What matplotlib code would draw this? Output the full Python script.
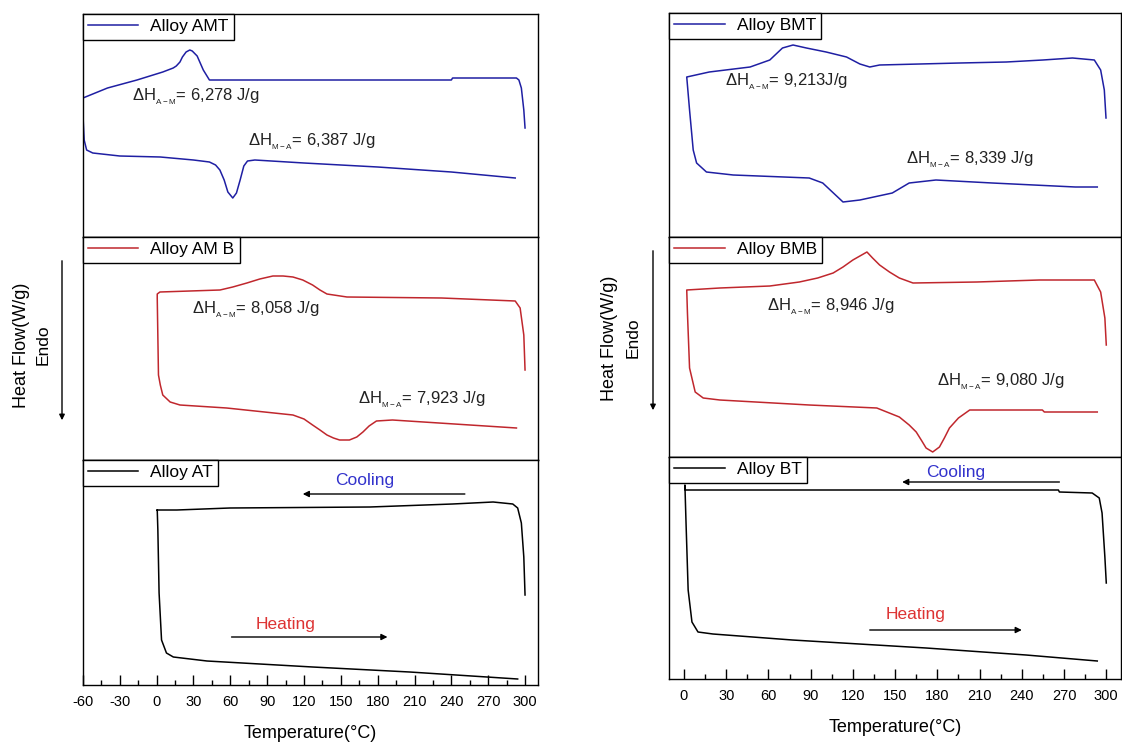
import numpy as np
import matplotlib
matplotlib.use("Agg")
import matplotlib.pyplot as plt
from matplotlib.patches import FancyArrowPatch

plt.rcParams['font.family'] = ['Liberation Sans', 'DejaVu Sans']
plt.rcParams['mathtext.fontset'] = 'custom'
plt.rcParams['mathtext.rm'] = 'Liberation Sans'
plt.rcParams['mathtext.it'] = 'Liberation Sans'
plt.rcParams['mathtext.default'] = 'regular'
plt.rcParams['axes.unicode_minus'] = False

# ---------------- data (temperature in °C, heat flow in arbitrary W/g) ----------------
# Alloy AMT
amt_cool_T = [300, 299, 297, 295, 293, 241, 240, 43, 38, 33, 29, 27, 24, 21, 19, 16, 13.5, 5, -16, -40, -60]
amt_cool_hf = [1.09, 1.27, 1.49, 1.57, 1.59, 1.59, 1.57, 1.57, 1.67, 1.81, 1.86, 1.87, 1.85, 1.80, 1.75, 1.71, 1.69, 1.65, 1.57, 1.49, 1.39]
amt_heat_T = [-60, -59, -57, -52, -30, 3, 30, 43, 48, 51.5, 55, 58, 62, 65, 68, 71, 74, 80, 120, 180, 240, 292]
amt_heat_hf = [1.22, 0.97, 0.87, 0.84, 0.81, 0.80, 0.77, 0.75, 0.72, 0.67, 0.57, 0.45, 0.39, 0.44, 0.57, 0.71, 0.76, 0.77, 0.74, 0.70, 0.65, 0.59]

# Alloy AMB
amb_cool_T = [300, 299, 296, 292, 232, 155, 138.7, 133, 127, 119, 111, 103, 94.7, 84, 73.5, 62, 51.6, 2.7, 0.5]
amb_cool_hf = [0.90, 1.25, 1.52, 1.59, 1.62, 1.63, 1.66, 1.70, 1.75, 1.80, 1.83, 1.84, 1.84, 1.81, 1.77, 1.73, 1.70, 1.68, 1.66]
amb_heat_T = [0.5, 1.5, 3, 5, 11, 19, 57, 111, 120, 127, 133, 138.7, 144, 149, 157, 163, 168, 173, 179, 192, 293]
amb_heat_hf = [1.62, 0.85, 0.75, 0.65, 0.58, 0.55, 0.52, 0.45, 0.41, 0.35, 0.30, 0.25, 0.22, 0.20, 0.20, 0.23, 0.28, 0.34, 0.39, 0.40, 0.32]

# Alloy AT
at_cool_T = [300, 299, 297, 294, 290, 274, 241, 173.7, 59.7, 16.5, 0.3]
at_cool_hf = [0.90, 1.28, 1.62, 1.77, 1.81, 1.83, 1.81, 1.78, 1.77, 1.75, 1.75]
at_heat_T = [0.5, 1, 2, 4, 8, 13.6, 41, 127, 206, 269, 294]
at_heat_hf = [1.75, 1.55, 0.92, 0.45, 0.32, 0.28, 0.24, 0.18, 0.13, 0.08, 0.06]

# Alloy BMT
bmt_cool_T = [299.8, 298.6, 296, 291.5, 276, 255, 229, 196, 139, 132, 125, 115.5, 101, 87, 77.5, 70, 61, 47, 18, 2]
bmt_cool_hf = [1.19, 1.47, 1.67, 1.77, 1.79, 1.77, 1.75, 1.74, 1.72, 1.70, 1.73, 1.80, 1.85, 1.89, 1.92, 1.89, 1.77, 1.70, 1.65, 1.60]
bmt_heat_T = [2, 4, 6.6, 9, 16, 35, 89, 98.6, 113, 125, 148, 160, 179, 219, 278, 293.6]
bmt_heat_hf = [1.60, 1.27, 0.87, 0.74, 0.65, 0.62, 0.59, 0.54, 0.35, 0.37, 0.44, 0.54, 0.57, 0.54, 0.50, 0.50]

# Alloy BMB
bmb_cool_T = [300, 299, 296, 291.5, 252.5, 208, 162.7, 153, 146, 139, 134, 130, 125, 120, 113, 106, 95, 82, 61, 25.5, 2]
bmb_cool_hf = [1.12, 1.39, 1.65, 1.77, 1.77, 1.75, 1.74, 1.79, 1.85, 1.92, 1.99, 2.05, 2.01, 1.97, 1.90, 1.84, 1.79, 1.75, 1.71, 1.69, 1.67]
bmb_heat_T = [2, 2.5, 4, 8, 13.7, 25.5, 89, 137, 153, 160, 165, 169, 172, 176.7, 181.5, 185, 188.6, 195, 203, 254.6, 256, 293.6]
bmb_heat_hf = [1.67, 1.44, 0.89, 0.65, 0.59, 0.57, 0.52, 0.49, 0.40, 0.32, 0.25, 0.16, 0.09, 0.05, 0.10, 0.19, 0.29, 0.39, 0.47, 0.47, 0.45, 0.45]

# Alloy BT
bt_cool_T = [300, 299, 297, 295, 290, 266.7, 266, 1.0, 0.7]
bt_cool_hf = [0.96, 1.22, 1.66, 1.81, 1.86, 1.87, 1.89, 1.89, 1.94]
bt_heat_T = [0.7, 1.5, 3, 5.7, 10, 20.6, 77, 172, 243, 293.6]
bt_heat_hf = [1.94, 1.56, 0.89, 0.57, 0.47, 0.45, 0.39, 0.31, 0.24, 0.18]

labels = ["Alloy AMT", "Alloy AM B", "Alloy AT", "Alloy BMT", "Alloy BMB", "Alloy BT"]
enthalpy_text = {
    "AMT": (r"$\Delta$H$_{_{A-M}}$= 6,278 J/g", r"$\Delta$H$_{_{M-A}}$= 6,387 J/g"),
    "AMB": (r"$\Delta$H$_{_{A-M}}$= 8,058 J/g", r"$\Delta$H$_{_{M-A}}$= 7,923 J/g"),
    "BMT": (r"$\Delta$H$_{_{A-M}}$= 9,213J/g", r"$\Delta$H$_{_{M-A}}$= 8,339 J/g"),
    "BMB": (r"$\Delta$H$_{_{A-M}}$= 8,946 J/g", r"$\Delta$H$_{_{M-A}}$= 9,080 J/g"),
}
xticks_left = list(range(-60, 301, 30))
xticks_right = list(range(0, 301, 30))

BLUE = "#1f1fa3"
RED = "#c0272d"
BLACK = "#000000"

fig = plt.figure(figsize=(11.22, 7.44), dpi=100)
W, H = 1122.0, 744.0

def add_ax(x0, x1, y0, y1):
    return fig.add_axes([x0 / W, 1 - y1 / H, (x1 - x0) / W, (y1 - y0) / H])

left_axes = [add_ax(82.7, 538.3, 14, 237), add_ax(82.7, 538.3, 237, 460), add_ax(82.7, 538.3, 460, 685)]
right_axes = [add_ax(669, 1120.5, 13, 237), add_ax(669, 1120.5, 237, 457), add_ax(669, 1120.5, 457, 679)]

series = [
    (left_axes[0], amt_cool_T, amt_cool_hf, amt_heat_T, amt_heat_hf, BLUE, labels[0], (-60.2, 310.8), 2.23),
    (left_axes[1], amb_cool_T, amb_cool_hf, amb_heat_T, amb_heat_hf, RED, labels[1], (-60.2, 310.8), 2.23),
    (left_axes[2], at_cool_T, at_cool_hf, at_heat_T, at_heat_hf, BLACK, labels[2], (-60.2, 310.8), 2.25),
    (right_axes[0], bmt_cool_T, bmt_cool_hf, bmt_heat_T, bmt_heat_hf, BLUE, labels[3], (-10.6, 310.1), 2.24),
    (right_axes[1], bmb_cool_T, bmb_cool_hf, bmb_heat_T, bmb_heat_hf, RED, labels[4], (-10.6, 310.1), 2.20),
    (right_axes[2], bt_cool_T, bt_cool_hf, bt_heat_T, bt_heat_hf, BLACK, labels[5], (-10.6, 310.1), 2.22),
]

for ax, cT, chf, hT, hhf, col, lab, xl, ytop in series:
    T = np.concatenate([cT, hT])
    hf = np.concatenate([chf, hhf])
    ax.plot(T, hf, color=col, lw=1.1, label=lab)
    ax.set_xlim(*xl)
    ax.set_ylim(0, ytop)
    ax.set_yticks([])
    for s in ax.spines.values():
        s.set_linewidth(1.0)
        s.set_color("black")
    ax.tick_params(axis='x', bottom=False, labelbottom=False)
    leg = ax.legend(loc='upper left', borderaxespad=0, fancybox=False, edgecolor='black',
                    framealpha=1, fontsize=12.5, handlelength=2.9, handletextpad=0.7,
                    borderpad=0.3)
    leg.get_frame().set_linewidth(1.0)

for ax, ticks in [(left_axes[2], xticks_left), (right_axes[2], xticks_right)]:
    ax.set_xticks(ticks)
    ax.set_xticks([t + 15 for t in ticks[:-1]], minor=True)
    ax.tick_params(axis='x', which='major', bottom=True, labelbottom=True, direction='in',
                   length=7, width=1.0, labelsize=10.5, pad=7)
    ax.tick_params(axis='x', which='minor', bottom=True, direction='in', length=3.5, width=1.0)
    ax.set_xlabel("Temperature(°C)", fontsize=13, labelpad=12)

# enthalpy annotations (left edge T, heat flow)
ann_kw = dict(fontsize=12, ha='left', va='center', color='#222222')
left_axes[0].text(-20, 1.40, enthalpy_text["AMT"][0], **ann_kw)
left_axes[0].text(74.4, 0.95, enthalpy_text["AMT"][1], **ann_kw)
left_axes[1].text(28.8, 1.50, enthalpy_text["AMB"][0], **ann_kw)
left_axes[1].text(164, 0.60, enthalpy_text["AMB"][1], **ann_kw)
right_axes[0].text(29, 1.55, enthalpy_text["BMT"][0], **ann_kw)
right_axes[0].text(158, 0.77, enthalpy_text["BMT"][1], **ann_kw)
right_axes[1].text(59, 1.50, enthalpy_text["BMB"][0], **ann_kw)
right_axes[1].text(180, 0.75, enthalpy_text["BMB"][1], **ann_kw)

# Cooling / heating arrows
arrow_kw = dict(arrowstyle='-|>', color='black', lw=1.0, mutation_scale=9, shrinkA=0, shrinkB=0)
for ax, cool, cool_txt, heat, heat_txt in [
    (left_axes[2], ((251, 1.91), (119, 1.91)), (169.6, 2.04), ((61, 0.48), (188, 0.48)), (105, 0.61)),
    (right_axes[2], ((266.7, 1.97), (155, 1.97)), (193, 2.07), ((132, 0.49), (240, 0.49)), (164.6, 0.64)),
]:
    ax.annotate('', xy=cool[1], xytext=cool[0], arrowprops=arrow_kw)
    ax.text(cool_txt[0], cool_txt[1], "Cooling", color="#3333cc", fontsize=12.5, ha='center', va='center')
    ax.annotate('', xy=heat[1], xytext=heat[0], arrowprops=arrow_kw)
    ax.text(heat_txt[0], heat_txt[1], "Heating", color="#dd3333", fontsize=12.5, ha='center', va='center')

# y-axis labels with Endo arrows
for xl, xe, xa, ya0, ya1, yc in [(22, 43, 62, 258, 423, 345), (610, 633, 653, 248, 413, 338)]:
    fig.text(xl / W, 1 - yc / H, "Heat Flow(W/g)", rotation=90, fontsize=13, ha='center', va='center')
    fig.text(xe / W, 1 - yc / H, "Endo", rotation=90, fontsize=12.5, ha='center', va='center')
    fig.add_artist(FancyArrowPatch((xa / W, 1 - ya0 / H), (xa / W, 1 - ya1 / H),
                   transform=fig.transFigure, arrowstyle='-|>', mutation_scale=8, lw=1.0, color='black'))

fig.savefig("out.png", dpi=100)
